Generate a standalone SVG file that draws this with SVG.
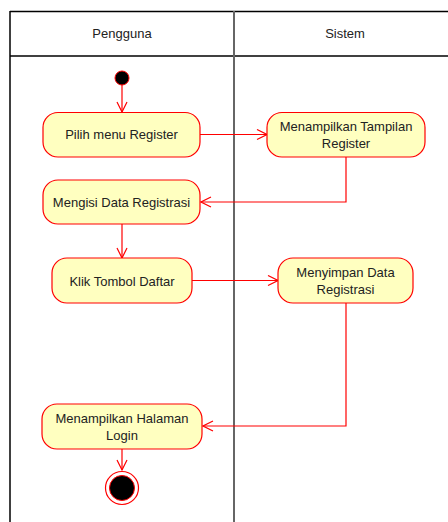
<svg xmlns="http://www.w3.org/2000/svg" width="448" height="522" viewBox="0 0 448 522">
  <defs>
    <marker id="open" viewBox="0 0 12 12" refX="11" refY="6" markerWidth="12" markerHeight="12" markerUnits="userSpaceOnUse" orient="auto">
      <path d="M1,1 L11,6 L1,11" fill="none" stroke="#ff0000" stroke-width="1.2"/>
    </marker>
  </defs>
  <style>
    .lane { stroke: #000; stroke-width: 1.5; fill: none; }
    .divider { stroke: #666; stroke-width: 2; fill: none; }
    .act { fill: #ffffc0; stroke: #ff0000; stroke-width: 1.2; }
    .label { font-family: "Liberation Sans", Arial, sans-serif; font-size: 13px; fill: #222; text-anchor: middle; }
    .flow { stroke: #ff0000; stroke-width: 1.2; fill: none; marker-end: url(#open); }
  </style>
  <rect width="448" height="522" fill="#fff"/>

  <!-- swimlanes -->
  <g id="lanes">
    <line class="lane" x1="10" y1="11.5" x2="448" y2="11.5"/>
    <line class="lane" x1="10" y1="56" x2="448" y2="56"/>
    <line class="lane" x1="10" y1="11" x2="10" y2="522"/>
    <line class="divider" x1="234" y1="11" x2="234" y2="522"/>
    <text class="label" x="122" y="38">Pengguna</text>
    <text class="label" x="345" y="38">Sistem</text>
  </g>

  <!-- connectors -->
  <g id="connectors">
    <path class="flow" d="M122,85 L122,112"/>
    <path class="flow" d="M200,134.5 L267,134.5"/>
    <path class="flow" d="M346,157 L346,202 L201,202"/>
    <path class="flow" d="M122,224 L122,258"/>
    <path class="flow" d="M192,280.5 L278,280.5"/>
    <path class="flow" d="M346,303 L346,426 L203,426"/>
    <path class="flow" d="M122,449 L122,470"/>
  </g>

  <g id="start">
    <circle cx="122" cy="78" r="7" fill="#000" stroke="#ff0000" stroke-width="1"/>
  </g>

  <g id="pilih-menu">
    <rect class="act" x="43" y="112.5" width="157" height="44.5" rx="15"/>
    <text class="label" x="121.5" y="139">Pilih menu Register</text>
  </g>

  <g id="tampilan-register">
    <rect class="act" x="267" y="112.5" width="158" height="44.5" rx="15"/>
    <text class="label" x="346" y="130.5">Menampilkan Tampilan</text>
    <text class="label" x="346" y="147.5">Register</text>
  </g>

  <g id="mengisi-data">
    <rect class="act" x="43" y="180" width="157" height="44" rx="15"/>
    <text class="label" x="121.5" y="206.5">Mengisi Data Registrasi</text>
  </g>

  <g id="klik-daftar">
    <rect class="act" x="52" y="258" width="140" height="45" rx="15"/>
    <text class="label" x="122" y="285.5">Klik Tombol Daftar</text>
  </g>

  <g id="menyimpan-data">
    <rect class="act" x="278" y="258" width="135" height="45" rx="15"/>
    <text class="label" x="345.5" y="276.5">Menyimpan Data</text>
    <text class="label" x="345.5" y="293.5">Registrasi</text>
  </g>

  <g id="halaman-login">
    <rect class="act" x="42" y="404" width="160" height="45" rx="15"/>
    <text class="label" x="122" y="422.5">Menampilkan Halaman</text>
    <text class="label" x="122" y="439.5">Login</text>
  </g>

  <g id="end">
    <circle cx="122" cy="488" r="16.5" fill="#fff" stroke="#ff0000" stroke-width="1.2"/>
    <circle cx="122" cy="488" r="12.5" fill="#000" stroke="#ff0000" stroke-width="1"/>
  </g>
</svg>
